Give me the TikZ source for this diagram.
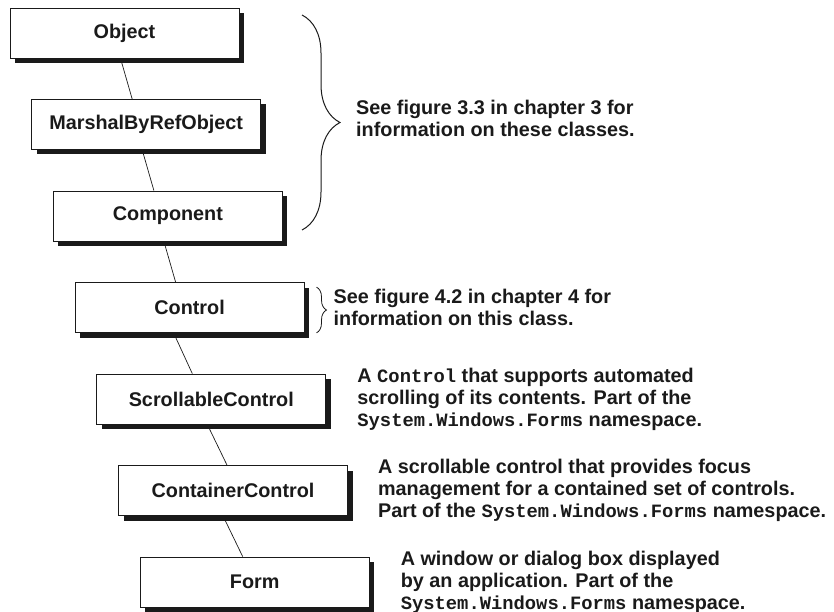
\documentclass[tikz,border=0pt]{standalone}
\usepackage{fontspec}
\setmainfont{Liberation Sans}
\setmonofont{Liberation Mono}[Scale=0.95]
\usepackage{xcolor}
\definecolor{cInk}{HTML}{1A1A1A}
\usetikzlibrary{positioning,shadows,decorations.pathreplacing}
\tikzset{
  cls-box/.style={draw=cInk,line width=0.8pt,fill=white,
    minimum width=229pt,minimum height=50pt,inner sep=0pt,
    drop shadow={shadow xshift=5pt,shadow yshift=-5pt,opacity=1,fill=cInk}},
  cls-note/.style={align=left,inner sep=0pt},
  link/.style={draw=cInk,line width=0.7pt},
  brace-big/.style={decorate,decoration={brace,amplitude=38pt},
    draw=cInk,line width=1pt},
  brace-small/.style={decorate,decoration={brace,amplitude=10pt},
    draw=cInk,line width=0.8pt},
}
\newcommand{\code}[1]{{\ttfamily #1}}

\begin{document}
\begin{tikzpicture}[x=1pt,y=-1pt,node distance=40.7pt and 30pt,
    font=\bfseries\fontsize{19.8}{22}\selectfont,text=cInk]
  \useasboundingbox (0,0) rectangle (834,612);
  % class chain
  \node[cls-box] at (124.5,33) (obj) {Object};
  \node[cls-box,below=of obj,xshift=21.7pt]   (mbro)  {MarshalByRefObject};
  \node[cls-box,below=of mbro,xshift=21.7pt]  (comp)  {Component};
  \node[cls-box,below=of comp,xshift=21.7pt]  (ctrl)  {Control};
  \node[cls-box,below=of ctrl,xshift=21.7pt]  (scrl)  {ScrollableControl};
  \node[cls-box,below=of scrl,xshift=21.7pt]  (cont)  {ContainerControl};
  \node[cls-box,below=of cont,xshift=21.7pt]  (form)  {Form};
  \draw[link] ([xshift=-4pt]obj.south)   -- ([xshift=-14pt]mbro.north);
  \draw[link] ([xshift=-4pt]mbro.south)  -- ([xshift=-14pt]comp.north);
  \draw[link] ([xshift=-4pt]comp.south)  -- ([xshift=-14pt]ctrl.north);
  \draw[link] ([xshift=-16pt]ctrl.south) -- ([xshift=-19pt]scrl.north);
  \draw[link] ([xshift=-4pt]scrl.south)  -- ([xshift=-6pt]cont.north);
  \draw[link] ([xshift=-10pt]cont.south) -- ([xshift=-12pt]form.north);
  % notes
  \draw[brace-big] (302,15) -- (302,230);
  \node[cls-note,anchor=west] at (356,118) (n-base)
    {See figure 3.3 in chapter 3 for\\information on these classes.};
  \draw[brace-small] ([xshift=12pt,yshift=-5pt]ctrl.north east)
    -- ([xshift=12pt]ctrl.south east);
  \node[cls-note,right=29pt of ctrl] (n-ctrl)
    {See figure 4.2 in chapter 4 for\\information on this class.};
  \node[cls-note,right=31pt of scrl] (n-scrl)
    {A \code{Control} that supports automated\\scrolling of its contents. Part of the\\\code{System.Windows.Forms} namespace.};
  \node[cls-note,right=30pt of cont] (n-cont)
    {A scrollable control that provides focus\\management for a contained set of controls.\\Part of the \code{System.Windows.Forms} namespace.};
  \node[cls-note,right=31pt of form] (n-form)
    {A window or dialog box displayed\\by an application. Part of the\\\code{System.Windows.Forms} namespace.};
\end{tikzpicture}
\end{document}
